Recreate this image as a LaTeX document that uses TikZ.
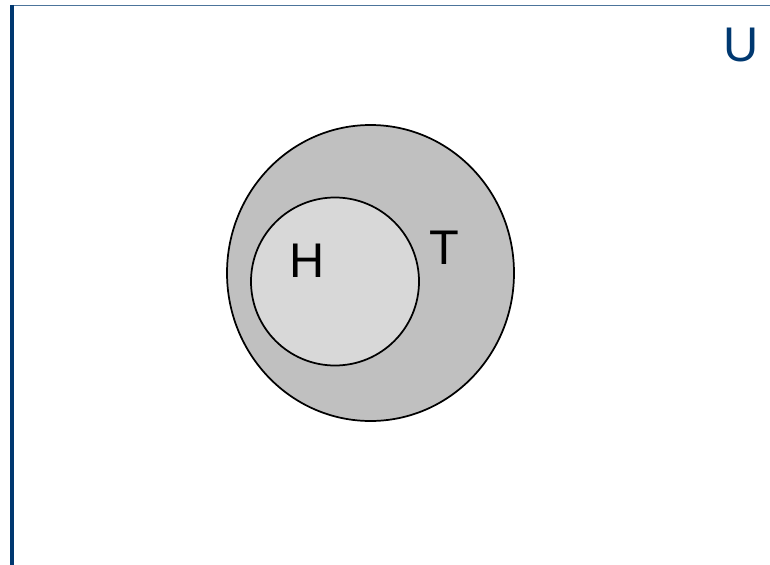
\documentclass[tikz,border=0pt]{standalone}
\usepackage{fontspec}
\setmainfont{Liberation Sans}
\usepackage{xcolor}
\usepackage{tikz}
\definecolor{FrameBlue}{RGB}{0,56,112}
\definecolor{SetGray}{RGB}{192,192,192}
\definecolor{SubGray}{RGB}{216,216,216}
\begin{document}
\begin{tikzpicture}[x=0.75pt,y=-0.75pt,
set/.style={draw=black,line width=1.3pt},
lbl/.style={inner sep=0pt,font=\fontsize{36.5}{40}\selectfont}
]
\useasboundingbox (0,0) rectangle (770,564);
% frame of the universe
\draw[FrameBlue!70,line width=1.3pt] (11,5.5) -- (775,5.5);
\draw[FrameBlue,line width=2.6pt] (12,4.8) -- (12,570);
\node[lbl,text=FrameBlue] (u) at (741,44.5) {U};
% sets
\filldraw[set,fill=SetGray] (370.5,273) ellipse [x radius=143.5,y radius=148];
\filldraw[set,fill=SubGray] (335,281.5) circle [radius=84];
\node[lbl] (h) at (307,261) {H};
\node[lbl] (t) at (444,248) {T};
\end{tikzpicture}
\end{document}
